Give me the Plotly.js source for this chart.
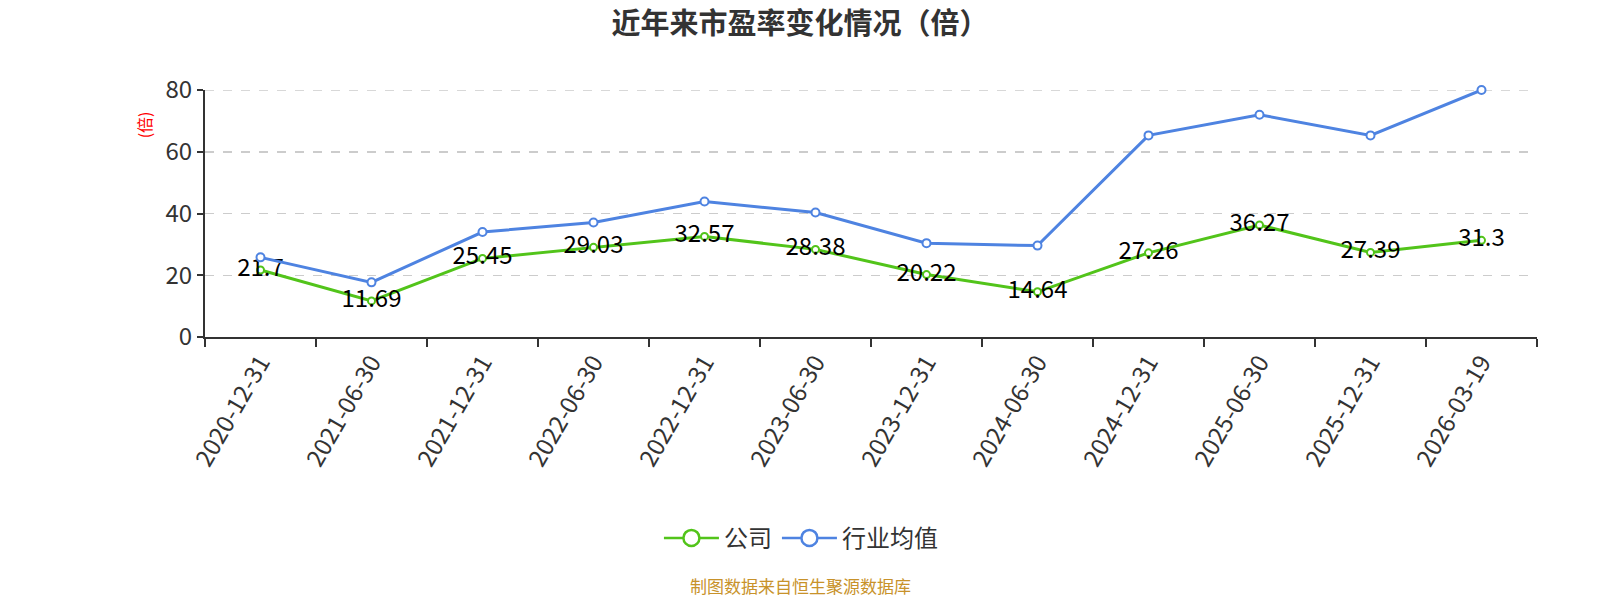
<!DOCTYPE html>
<html>
<head>
<meta charset="utf-8">
<script src="https://cdn.plot.ly/plotly-3.0.1.min.js"></script>
<style>html,body{margin:0;padding:0;background:#fff;}#chart{width:1600px;height:600px;}</style>
</head>
<body>
<div id="chart"></div>
<script>
const categories = ["2020-12-31","2021-06-30","2021-12-31","2022-06-30","2022-12-31","2023-06-30","2023-12-31","2024-06-30","2024-12-31","2025-06-30","2025-12-31","2026-03-19"];
const companyPE = [21.7, 11.69, 25.45, 29.03, 32.57, 28.38, 20.22, 14.64, 27.26, 36.27, 27.39, 31.3];
const industryPE = [25.8, 17.7, 34.0, 37.1, 43.9, 40.3, 30.4, 29.6, 65.3, 72.0, 65.3, 80.0];
const yTicks = [0, 20, 40, 60, 80];
const seriesNames = ["公司", "行业均值"];
const titleText = "近年来市盈率变化情况（倍）";
const unitText = "(倍)";
const sourceText = "制图数据来自恒生聚源数据库";

const FONT = "'Noto Sans CJK SC', 'Noto Sans', sans-serif";
const GREEN = "#52C41A";
const BLUE = "#4E83E1";

const traces = [
  {
    type: "scatter", mode: "lines+markers+text", name: seriesNames[0], showlegend: false,
    x: categories, y: companyPE,
    text: companyPE.map(String), textposition: "middle center",
    textfont: {family: FONT, size: 24, color: "#000"},
    line: {color: GREEN, width: 3},
    marker: {symbol: "circle", size: 7, color: "#fff", line: {color: GREEN, width: 2}},
    cliponaxis: false
  },
  {
    type: "scatter", mode: "lines+markers", name: seriesNames[1], showlegend: false,
    x: categories, y: industryPE,
    line: {color: BLUE, width: 3},
    marker: {symbol: "circle", size: 8, color: "#fff", line: {color: BLUE, width: 2}},
    cliponaxis: false
  },
  {
    type: "scatter", mode: "lines+markers", name: seriesNames[0], x: [null], y: [null],
    line: {color: GREEN, width: 2.5},
    marker: {symbol: "circle", size: 16, color: "#fff", line: {color: GREEN, width: 2.5}}
  },
  {
    type: "scatter", mode: "lines+markers", name: seriesNames[1], x: [null], y: [null],
    line: {color: BLUE, width: 2.5},
    marker: {symbol: "circle", size: 16, color: "#fff", line: {color: BLUE, width: 2.5}}
  }
];

const layout = {
  width: 1600, height: 600,
  margin: {l: 205, r: 63, t: 90, b: 263},
  paper_bgcolor: "#fff", plot_bgcolor: "#fff",
  font: {family: FONT, color: "#333"},
  title: {text: "<b>" + titleText + "</b>", x: 0.5, xanchor: "center", y: 0.96, yanchor: "middle",
          font: {family: FONT, size: 29, color: "#333"}},
  xaxis: {
    type: "category", range: [-0.5, 11.5], tickson: "boundaries", ticks: "outside", ticklen: 8, tickwidth: 2, tickcolor: "#333",
    showline: true, linecolor: "#333", linewidth: 2, showgrid: false, zeroline: false,
    tickangle: -60, tickfont: {family: FONT, size: 24, color: "#333"}
  },
  yaxis: {
    range: [0, 80], tickvals: yTicks, ticks: "outside", ticklen: 6, tickwidth: 2, tickcolor: "#333",
    showline: true, linecolor: "#333", linewidth: 2,
    showgrid: true, gridcolor: "#ccc", griddash: "dash", gridwidth: 1.5, zeroline: false,
    tickfont: {family: FONT, size: 24, color: "#333"}
  },
  shapes: [
    {type: "line", xref: "paper", yref: "y", x0: 0, x1: 1, y0: yTicks[yTicks.length - 1], y1: yTicks[yTicks.length - 1],
     line: {color: "#ccc", width: 1.5, dash: "dash"}, layer: "below"}
  ],
  showlegend: true,
  legend: {orientation: "h", x: 0.4474, xanchor: "center", y: -0.815, yanchor: "middle", itemwidth: 55,
           font: {family: FONT, size: 24, color: "#333"}},
  annotations: [
    {text: unitText, xref: "paper", yref: "paper", x: -0.046, y: 0.86, xanchor: "center", yanchor: "middle",
     textangle: -90, showarrow: false, font: {family: FONT, size: 16, color: "#ff0000"}},
    {text: sourceText, xref: "paper", yref: "paper", x: 0.4474, y: -1.006, xanchor: "center", yanchor: "middle",
     showarrow: false, font: {family: FONT, size: 17, color: "#C8922A"}}
  ]
};

Plotly.newPlot("chart", traces, layout, {displayModeBar: false, staticPlot: true});
</script>
</body>
</html>
